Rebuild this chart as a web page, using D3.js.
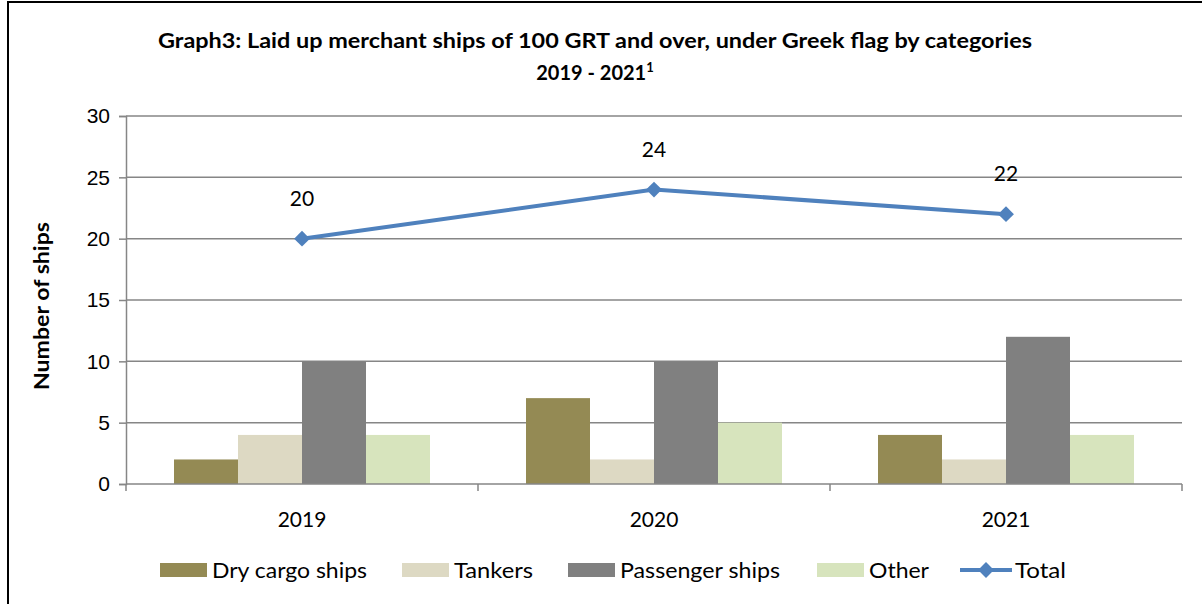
<!DOCTYPE html>
<html>
<head>
<meta charset="utf-8">
<script src="https://cdn.jsdelivr.net/npm/d3@7"></script>
<style>
  body { margin: 0; background: #fff; }
  svg { display: block; font-family: Lato, "Open Sans", sans-serif; }
</style>
</head>
<body>
<svg id="chart" width="1202" height="604"></svg>
<script>
years = ["2019", "2020", "2021"];
categories = ["Dry cargo ships", "Tankers", "Passenger ships", "Other"];
dryCargo = [2, 7, 4];
tankers = [4, 2, 2];
passenger = [10, 10, 12];
other = [4, 5, 4];
totals = [20, 24, 22];
yTicks = [0, 5, 10, 15, 20, 25, 30];

colors = ["#948A54", "#DDD9C3", "#808080", "#D7E4BD"];
lineColor = "#4F81BD";
gridColor = "#868686";

series = [dryCargo, tankers, passenger, other];

svg = d3.select("#chart");

// outer frame
svg.append("rect")
    .attr("x", 8).attr("y", 2)
    .attr("width", 1220).attr("height", 640)
    .attr("fill", "none").attr("stroke", "#000").attr("stroke-width", 2);

margin = {left: 126, right: 1182, top: 116, bottom: 484};

x = d3.scaleBand().domain(years).range([margin.left, margin.right]).paddingInner(0).paddingOuter(0);
xInner = d3.scaleBand().domain(categories).range([0, x.bandwidth()]).paddingInner(0).paddingOuter(0.75);
y = d3.scaleLinear().domain([0, 30]).range([margin.bottom, margin.top]);

// grid
svg.append("g").selectAll("line")
    .data(yTicks.filter(d => d > 0))
    .join("line")
    .attr("x1", margin.left).attr("x2", margin.right)
    .attr("y1", d => y(d)).attr("y2", d => y(d))
    .attr("stroke", gridColor).attr("stroke-width", 1.5);

// y axis
yAxis = svg.append("g")
    .attr("transform", `translate(${margin.left},0)`)
    .call(d3.axisLeft(y).tickValues(yTicks).tickSize(7).tickPadding(9));
yAxis.select(".domain").attr("stroke", gridColor).attr("stroke-width", 1.5);
yAxis.selectAll(".tick line").attr("stroke", gridColor).attr("stroke-width", 1.5);
yAxis.selectAll("text").attr("font-size", 21).attr("fill", "#000");

// bars
groups = svg.append("g").selectAll("g")
    .data(years)
    .join("g")
    .attr("transform", d => `translate(${x(d)},0)`);

groups.selectAll("rect")
    .data((d, i) => categories.map((c, j) => ({cat: c, value: series[j][i], color: colors[j]})))
    .join("rect")
    .attr("x", d => xInner(d.cat))
    .attr("y", d => y(d.value))
    .attr("width", xInner.bandwidth())
    .attr("height", d => y(0) - y(d.value))
    .attr("fill", d => d.color);

// x axis
xAxis = svg.append("g")
    .attr("transform", `translate(0,${margin.bottom})`);
xAxis.append("line")
    .attr("x1", margin.left).attr("x2", margin.right)
    .attr("stroke", gridColor).attr("stroke-width", 1.5);
xAxis.selectAll(".tk")
    .data([margin.left, ...years.map(d => x(d) + x.bandwidth())])
    .join("line")
    .attr("x1", d => d).attr("x2", d => d)
    .attr("y1", 0).attr("y2", 7)
    .attr("stroke", gridColor).attr("stroke-width", 1.5);
xAxis.selectAll("text")
    .data(years)
    .join("text")
    .attr("x", d => x(d) + x.bandwidth() / 2)
    .attr("y", 43)
    .attr("text-anchor", "middle")
    .attr("font-size", 21)
    .text(d => d);

// total line
cx = d => x(d) + x.bandwidth() / 2;
line = d3.line().x((d, i) => cx(years[i])).y(d => y(d));
svg.append("path")
    .datum(totals)
    .attr("d", line)
    .attr("fill", "none")
    .attr("stroke", lineColor)
    .attr("stroke-width", 4);

diamond = d3.symbol().type(d3.symbolDiamond2).size(160);
svg.append("g").selectAll("path")
    .data(totals)
    .join("path")
    .attr("d", diamond)
    .attr("transform", (d, i) => `translate(${cx(years[i])},${y(d)})`)
    .attr("fill", lineColor);

svg.append("g").selectAll("text")
    .data(totals)
    .join("text")
    .attr("x", (d, i) => cx(years[i]))
    .attr("y", d => y(d) - 33)
    .attr("text-anchor", "middle")
    .attr("font-size", 21)
    .text(d => d);

// title
svg.append("text")
    .attr("x", 595).attr("y", 48)
    .attr("text-anchor", "middle")
    .attr("font-size", 20).attr("font-weight", "bold")
    .attr("textLength", 874).attr("lengthAdjust", "spacingAndGlyphs")
    .text("Graph3: Laid up merchant ships of 100 GRT and over, under Greek flag by categories");
sub = svg.append("text")
    .attr("x", 595).attr("y", 80)
    .attr("text-anchor", "middle")
    .attr("font-size", 20).attr("font-weight", "bold");
sub.append("tspan").text("2019 - 2021");
sub.append("tspan").attr("font-size", 13).attr("dy", -8).text("1");

// y label
svg.append("text")
    .attr("transform", "translate(49,306) rotate(-90)")
    .attr("text-anchor", "middle")
    .attr("font-size", 20).attr("font-weight", "bold")
    .attr("textLength", 168).attr("lengthAdjust", "spacingAndGlyphs")
    .text("Number of ships");

// legend
legendX = [160, 402, 568, 817];
legendW = [155, 79, 160, 60];
legend = svg.append("g");
categories.forEach((c, i) => {
    legend.append("rect")
        .attr("x", legendX[i]).attr("y", 563)
        .attr("width", 47).attr("height", 14)
        .attr("fill", colors[i]);
    legend.append("text")
        .attr("x", legendX[i] + 52).attr("y", 578)
        .attr("font-size", 21)
        .attr("textLength", legendW[i]).attr("lengthAdjust", "spacingAndGlyphs")
        .text(c);
});
legend.append("line")
    .attr("x1", 960).attr("x2", 1012)
    .attr("y1", 570).attr("y2", 570)
    .attr("stroke", lineColor).attr("stroke-width", 4);
legend.append("path")
    .attr("d", diamond)
    .attr("transform", "translate(986,570)")
    .attr("fill", lineColor);
legend.append("text")
    .attr("x", 1015).attr("y", 578)
    .attr("font-size", 21)
    .attr("textLength", 51).attr("lengthAdjust", "spacingAndGlyphs")
    .text("Total");
</script>
</body>
</html>
